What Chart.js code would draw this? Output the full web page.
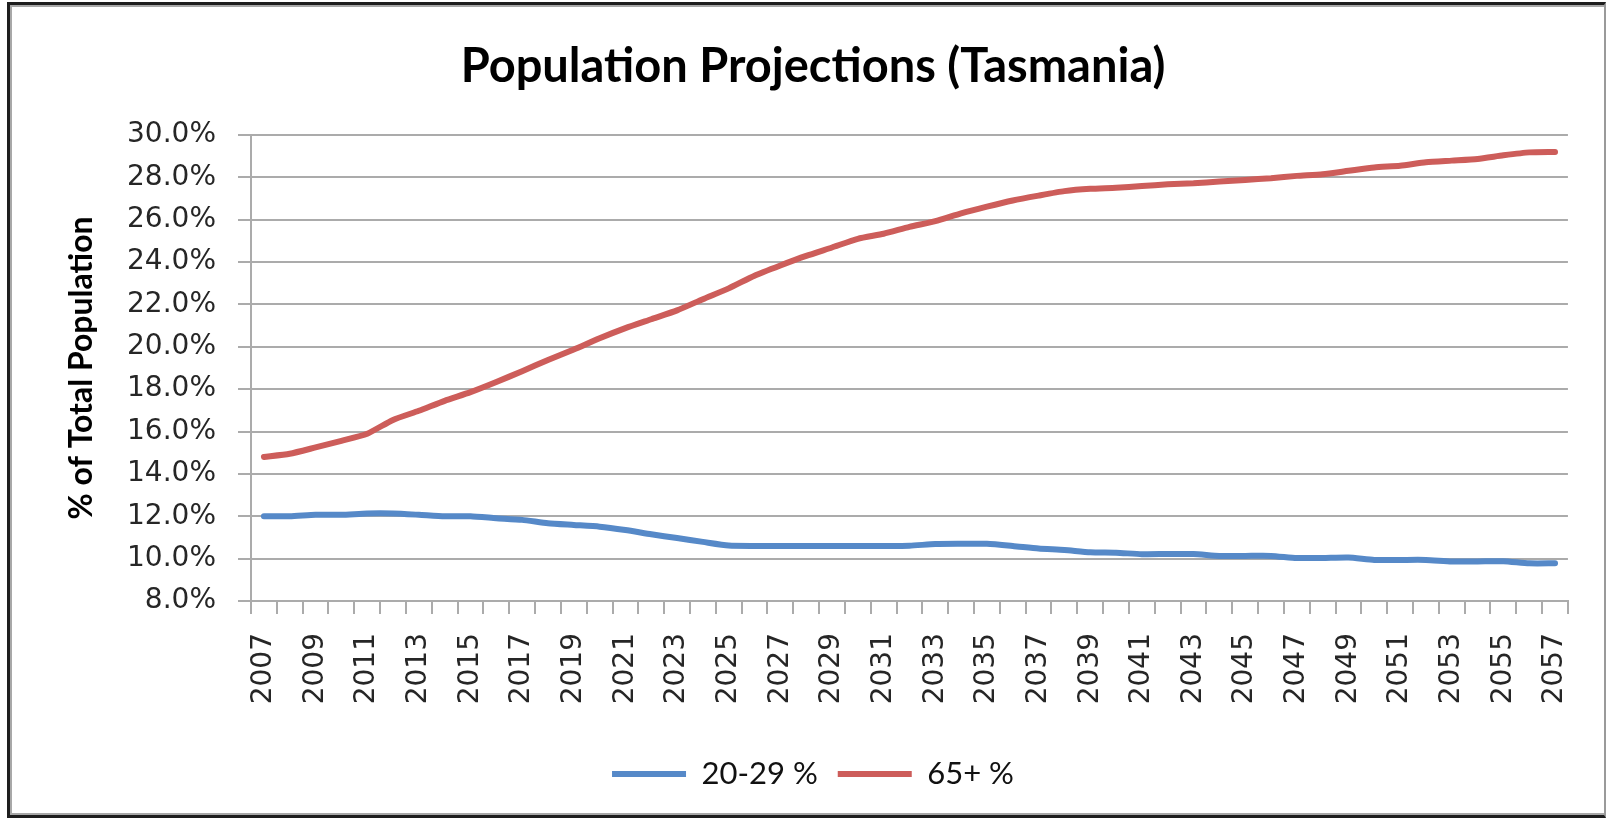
<!DOCTYPE html>
<html>
<head>
<meta charset="utf-8">
<title>Population Projections (Tasmania)</title>
<script src="https://cdn.jsdelivr.net/npm/chart.js@4.4.1/dist/chart.umd.min.js"></script>
<style>
    html, body { margin: 0; padding: 0; background: #fff; }
    #frame {
        position: absolute; left: 7px; top: 2px; width: 1599px; height: 816px;
        box-sizing: border-box;
        border: 3px solid #1e1e1e; border-right: 2px solid #9a9a9a;
        box-shadow: inset 2px 2px 0 #a8a8a8, inset 0 -2px 0 #a8a8a8;
    }
    #wrap { position: absolute; left: 0; top: 0; width: 1608px; height: 819px; }
</style>
</head>
<body>
<div id="frame"></div>
<div id="wrap"><canvas id="population-chart"></canvas></div>
<script>
const years = [
    '2007', '2008', '2009', '2010', '2011', '2012', '2013', '2014', '2015', '2016',
    '2017', '2018', '2019', '2020', '2021', '2022', '2023', '2024', '2025', '2026',
    '2027', '2028', '2029', '2030', '2031', '2032', '2033', '2034', '2035', '2036',
    '2037', '2038', '2039', '2040', '2041', '2042', '2043', '2044', '2045', '2046',
    '2047', '2048', '2049', '2050', '2051', '2052', '2053', '2054', '2055', '2056',
    '2057'
];

// % of total population aged 20-29
const age20to29 = [
    12.0, 12.0, 12.07, 12.07, 12.13, 12.13, 12.07, 12.0, 12.0, 11.91,
    11.83, 11.67, 11.59, 11.51, 11.35, 11.15, 10.97, 10.79, 10.62, 10.6,
    10.6, 10.6, 10.6, 10.6, 10.6, 10.61, 10.69, 10.7, 10.7, 10.6,
    10.48, 10.41, 10.3, 10.28, 10.21, 10.22, 10.22, 10.13, 10.13, 10.13,
    10.03, 10.03, 10.05, 9.94, 9.94, 9.94, 9.87, 9.87, 9.88, 9.78,
    9.78
];

// % of total population aged 65+
const age65plus = [
    14.8, 14.95, 15.25, 15.56, 15.9, 16.55, 16.98, 17.45, 17.86, 18.34,
    18.85, 19.38, 19.87, 20.4, 20.88, 21.3, 21.72, 22.25, 22.76, 23.36,
    23.84, 24.29, 24.69, 25.1, 25.34, 25.66, 25.93, 26.3, 26.62, 26.91,
    27.14, 27.35, 27.46, 27.51, 27.59, 27.67, 27.72, 27.8, 27.88, 27.96,
    28.07, 28.15, 28.31, 28.47, 28.55, 28.71, 28.79, 28.87, 29.04, 29.18,
    29.2
];

const seriesNames = ['20-29 %', '65+ %'];
const yMin = 8;
const yMax = 30;
const yStep = 2;

const gridColor = '#ababab';
const textColor = '#262626';

function makeChart() {
    const ctx = document.getElementById('population-chart');

    new Chart(ctx, {
        type: 'line',
        data: {
            labels: years,
            datasets: [
                {
                    label: seriesNames[0],
                    data: age20to29,
                    borderColor: '#5689c8',
                    backgroundColor: '#5689c8',
                    borderWidth: 6,
                    borderCapStyle: 'round',
                    pointRadius: 0,
                    tension: 0.2,
                    fill: false
                },
                {
                    label: seriesNames[1],
                    data: age65plus,
                    borderColor: '#cd5d5a',
                    backgroundColor: '#cd5d5a',
                    borderWidth: 6,
                    borderCapStyle: 'round',
                    pointRadius: 0,
                    tension: 0.2,
                    fill: false
                }
            ]
        },
        options: {
            responsive: true,
            maintainAspectRatio: false,
            animation: false,
            layout: { padding: { left: 56, right: 38, top: 0, bottom: 19.5 } },
            plugins: {
                tooltip: { enabled: false },
                title: {
                    display: true,
                    text: 'Population Projections (Tasmania)',
                    color: '#000',
                    font: { family: 'Lato', size: 47, weight: 'bold' },
                    padding: { top: 38.8, bottom: 39.8 }
                },
                legend: {
                    position: 'bottom',
                    labels: {
                        usePointStyle: true,
                        pointStyle: 'line',
                        pointStyleWidth: 74,
                        padding: 20,
                        color: '#111',
                        font: { family: 'Lato', size: 31 }
                    }
                }
            },
            scales: {
                x: {
                    offset: true,
                    afterFit: scale => { scale.height = 137.5; },
                    grid: {
                        offset: true,
                        drawOnChartArea: false,
                        color: gridColor,
                        lineWidth: 2,
                        tickLength: 13
                    },
                    border: { color: gridColor, width: 2 },
                    ticks: {
                        autoSkip: false,
                        minRotation: 90,
                        maxRotation: 90,
                        padding: 19,
                        color: textColor,
                        font: { family: 'DejaVu Sans', size: 28 },
                        callback: (value, index) => index % 2 === 0 ? years[index] : ''
                    }
                },
                y: {
                    min: yMin,
                    max: yMax,
                    afterFit: scale => { scale.width = 195; },
                    grid: { color: gridColor, lineWidth: 2, tickLength: 13 },
                    border: { color: gridColor, width: 2 },
                    ticks: {
                        stepSize: yStep,
                        padding: 22,
                        color: textColor,
                        font: { family: 'DejaVu Sans', size: 28 },
                        callback: value => value.toFixed(1) + '%'
                    },
                    title: {
                        display: true,
                        text: '% of Total Population',
                        color: '#000',
                        font: { family: 'Lato', size: 32, weight: 'bold' },
                        padding: { top: 6.8, bottom: 0 }
                    }
                }
            }
        }
    });
}

window.onload = function() {
    makeChart();
};
</script>
</body>
</html>
